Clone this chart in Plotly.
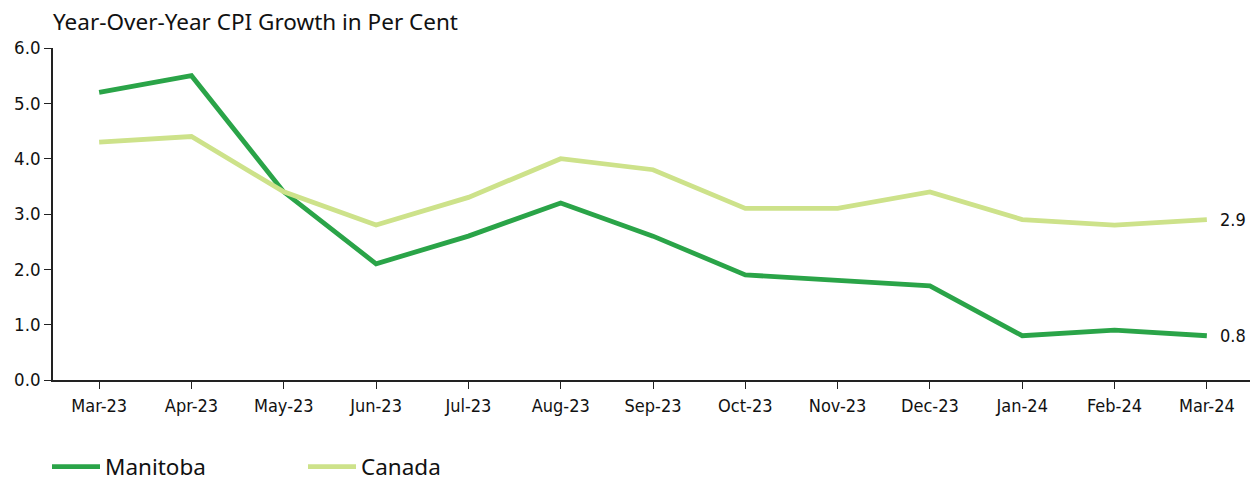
import plotly.graph_objects as go

months = ["Mar-23", "Apr-23", "May-23", "Jun-23", "Jul-23", "Aug-23", "Sep-23",
          "Oct-23", "Nov-23", "Dec-23", "Jan-24", "Feb-24", "Mar-24"]
manitoba = [5.2, 5.5, 3.4, 2.1, 2.6, 3.2, 2.6, 1.9, 1.8, 1.7, 0.8, 0.9, 0.8]
canada = [4.3, 4.4, 3.4, 2.8, 3.3, 4.0, 3.8, 3.1, 3.1, 3.4, 2.9, 2.8, 2.9]
y_ticks = [0, 1, 2, 3, 4, 5, 6]

DARK = "#2aa448"
LIGHT = "#cde28a"
FONT = "Noto Sans"
COND = "DejaVu Sans Condensed"

fig = go.Figure()
fig.add_trace(go.Scatter(x=list(range(len(months))), y=manitoba, name="Manitoba",
                         mode="lines", line=dict(color=DARK, width=4.8)))
fig.add_trace(go.Scatter(x=list(range(len(months))), y=canada, name="Canada",
                         mode="lines", line=dict(color=LIGHT, width=4.8)))

for vals in (manitoba, canada):
    fig.add_annotation(x=len(months) - 1, y=vals[-1], xref="x", yref="y",
                       text=f"{vals[-1]:.1f}", showarrow=False, xanchor="left",
                       xshift=11, font=dict(family=COND, size=18, color="#111111"))

# page body has an 8px margin: figure sits at (8, 8) in the window
fig.update_layout(
    width=1250, height=475,
    margin=dict(l=45, r=5, t=40, b=103, autoexpand=False),
    plot_bgcolor="white", paper_bgcolor="white",
    font=dict(family=FONT, color="#111111"),
    title=dict(text="Year-Over-Year CPI Growth in Per Cent", x=45 / 1250, xref="container",
               xanchor="left", y=0.971, yanchor="middle",
               font=dict(family=FONT, size=22.5, color="#111111")),
    showlegend=True,
    legend=dict(orientation="h", x=-0.005, xanchor="left", y=-0.262, yanchor="middle",
                font=dict(family=FONT, size=22.5, color="#111111"),
                entrywidth=193, entrywidthmode="pixels", itemwidth=48),
    xaxis=dict(range=[-0.5, 12.5], tickmode="array", automargin=False,
               tickvals=list(range(len(months))), ticktext=months,
               showgrid=False, zeroline=False, showline=True, linecolor="#222222",
               linewidth=1.5, ticks="outside", ticklen=7, tickcolor="#222222",
               ticklabelstandoff=2,
               tickfont=dict(family=COND, size=18, color="#111111")),
    yaxis=dict(range=[0, 6], tickmode="array", tickvals=y_ticks, automargin=False,
               ticktext=[f"{v:.1f}" for v in y_ticks],
               showgrid=False, zeroline=False, showline=True, linecolor="#222222",
               linewidth=1.5, ticks="outside", ticklen=7, tickcolor="#222222",
               tickfont=dict(family=COND, size=18.5, color="#111111")),
)

fig.write_html("out.html")
